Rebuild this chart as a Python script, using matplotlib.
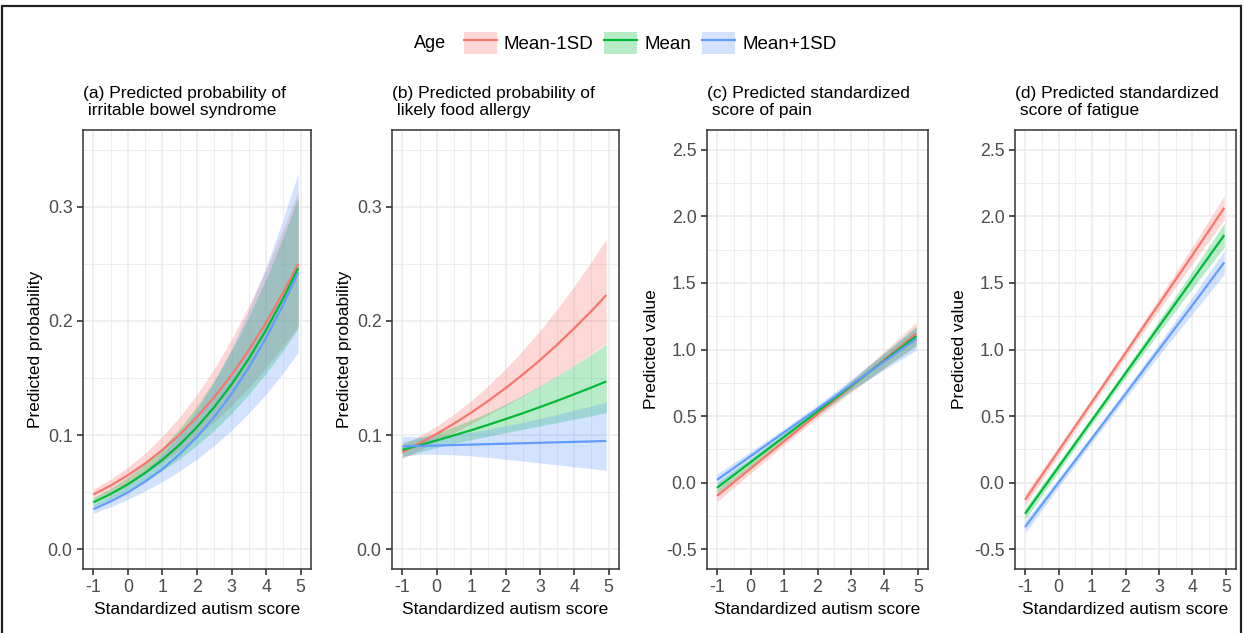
import matplotlib
matplotlib.use("Agg")
import matplotlib.pyplot as plt
from matplotlib.patches import Patch, Rectangle
from matplotlib.lines import Line2D
from matplotlib.ticker import FixedLocator, FixedFormatter

plt.rcParams['font.family'] = ['Liberation Sans', 'DejaVu Sans']
plt.rcParams['axes.unicode_minus'] = False

# ---------------- data ----------------
groups = ["Mean-1SD", "Mean", "Mean+1SD"]
legend_title = "Age"
colors = ["#F8766D", "#00BA38", "#619CFF"]

titles = ["(a) Predicted probability of\n irritable bowel syndrome",
          "(b) Predicted probability of\n likely food allergy",
          "(c) Predicted standardized\n score of pain",
          "(d) Predicted standardized\n score of fatigue"]
ylabels = ["Predicted probability", "Predicted probability",
           "Predicted value", "Predicted value"]
xlabel = "Standardized autism score"
x_ticks = [-1, 0, 1, 2, 3, 4, 5]
prob_ticks = [0.0, 0.1, 0.2, 0.3]
value_ticks = [-0.5, 0.0, 0.5, 1.0, 1.5, 2.0, 2.5]

# logistic panels (a, b)
x_prob = [-1, -0.5, 0, 0.5, 1, 1.5, 2, 2.5, 3, 3.5, 4, 4.5, 4.93]

ibs_m1sd    = [0.0479, 0.0557, 0.0647, 0.0751, 0.0869, 0.1005, 0.1158, 0.1332, 0.1526, 0.1745, 0.1986, 0.2253, 0.2500]
ibs_m1sd_lo = [0.0435, 0.0506, 0.0582, 0.0668, 0.0763, 0.0868, 0.0985, 0.1115, 0.1258, 0.1416, 0.1590, 0.1780, 0.1956]
ibs_m1sd_hi = [0.0527, 0.0614, 0.0718, 0.0842, 0.0989, 0.1160, 0.1356, 0.1584, 0.1841, 0.2132, 0.2453, 0.2809, 0.3135]
ibs_mean    = [0.0410, 0.0483, 0.0568, 0.0668, 0.0783, 0.0916, 0.1070, 0.1245, 0.1444, 0.1669, 0.1922, 0.2201, 0.2465]
ibs_mean_lo = [0.0372, 0.0438, 0.0511, 0.0595, 0.0687, 0.0792, 0.0910, 0.1042, 0.1191, 0.1356, 0.1541, 0.1744, 0.1936]
ibs_mean_hi = [0.0451, 0.0533, 0.0631, 0.0750, 0.0891, 0.1057, 0.1253, 0.1479, 0.1741, 0.2036, 0.2370, 0.2739, 0.3085]
ibs_p1sd    = [0.0350, 0.0418, 0.0497, 0.0592, 0.0702, 0.0833, 0.0984, 0.1159, 0.1361, 0.1592, 0.1853, 0.2147, 0.2425]
ibs_p1sd_lo = [0.0312, 0.0370, 0.0436, 0.0510, 0.0592, 0.0685, 0.0790, 0.0908, 0.1042, 0.1192, 0.1359, 0.1547, 0.1724]
ibs_p1sd_hi = [0.0393, 0.0471, 0.0567, 0.0687, 0.0833, 0.1009, 0.1220, 0.1468, 0.1758, 0.2094, 0.2474, 0.2899, 0.3298]

fa_m1sd    = [0.0850, 0.0927, 0.1010, 0.1100, 0.1196, 0.1300, 0.1411, 0.1530, 0.1656, 0.1792, 0.1936, 0.2088, 0.2227]
fa_m1sd_lo = [0.0790, 0.0867, 0.0945, 0.1022, 0.1099, 0.1176, 0.1258, 0.1340, 0.1427, 0.1517, 0.1612, 0.1712, 0.1802]
fa_m1sd_hi = [0.0915, 0.0991, 0.1079, 0.1183, 0.1301, 0.1434, 0.1580, 0.1742, 0.1914, 0.2103, 0.2306, 0.2522, 0.2719]
fa_mean    = [0.0870, 0.0910, 0.0953, 0.0997, 0.1042, 0.1090, 0.1140, 0.1191, 0.1245, 0.1300, 0.1358, 0.1417, 0.1470]
fa_mean_lo = [0.0808, 0.0850, 0.0890, 0.0925, 0.0959, 0.0989, 0.1020, 0.1050, 0.1079, 0.1109, 0.1139, 0.1169, 0.1195]
fa_mean_hi = [0.0936, 0.0974, 0.1019, 0.1073, 0.1133, 0.1199, 0.1271, 0.1348, 0.1431, 0.1519, 0.1611, 0.1708, 0.1796]
fa_p1sd    = [0.0900, 0.0904, 0.0908, 0.0912, 0.0916, 0.0920, 0.0924, 0.0928, 0.0932, 0.0936, 0.0940, 0.0944, 0.0948]
fa_p1sd_lo = [0.0818, 0.0829, 0.0832, 0.0827, 0.0817, 0.0804, 0.0788, 0.0772, 0.0755, 0.0739, 0.0722, 0.0705, 0.0691]
fa_p1sd_hi = [0.0989, 0.0985, 0.0990, 0.1004, 0.1025, 0.1051, 0.1080, 0.1112, 0.1145, 0.1180, 0.1217, 0.1255, 0.1288]

# linear panels (c, d)
x_lin = [-1, 0, 1, 2, 3, 4, 4.95]

pain_m1sd    = [-0.100, 0.105, 0.310, 0.515, 0.720, 0.925, 1.120]
pain_m1sd_lo = [-0.145, 0.070, 0.282, 0.485, 0.678, 0.863, 1.035]
pain_m1sd_hi = [-0.055, 0.140, 0.338, 0.545, 0.762, 0.987, 1.205]
pain_mean    = [-0.040, 0.152, 0.343, 0.535, 0.726, 0.918, 1.100]
pain_mean_lo = [-0.080, 0.122, 0.318, 0.508, 0.688, 0.862, 1.025]
pain_mean_hi = [0.000, 0.182, 0.368, 0.562, 0.764, 0.974, 1.175]
pain_p1sd    = [0.020, 0.198, 0.376, 0.554, 0.733, 0.911, 1.080]
pain_p1sd_lo = [-0.025, 0.163, 0.348, 0.524, 0.691, 0.849, 0.995]
pain_p1sd_hi = [0.065, 0.233, 0.404, 0.584, 0.775, 0.973, 1.165]

fat_m1sd    = [-0.130, 0.238, 0.606, 0.974, 1.342, 1.710, 2.065]
fat_m1sd_lo = [-0.175, 0.203, 0.576, 0.941, 1.297, 1.645, 1.975]
fat_m1sd_hi = [-0.085, 0.273, 0.636, 1.007, 1.387, 1.775, 2.155]
fat_mean    = [-0.235, 0.117, 0.469, 0.821, 1.173, 1.525, 1.860]
fat_mean_lo = [-0.280, 0.082, 0.439, 0.788, 1.128, 1.460, 1.770]
fat_mean_hi = [-0.190, 0.152, 0.499, 0.854, 1.218, 1.590, 1.950]
fat_p1sd    = [-0.335, -0.001, 0.332, 0.666, 1.000, 1.333, 1.655]
fat_p1sd_lo = [-0.380, -0.036, 0.302, 0.633, 0.955, 1.268, 1.565]
fat_p1sd_hi = [-0.290, 0.034, 0.362, 0.699, 1.045, 1.398, 1.745]

# ---------------- layout ----------------
W, H = 1245, 633
fig = plt.figure(figsize=(W / 100, H / 100), dpi=100)

panel_px = [(83, 311), (392, 619), (707, 928), (1015, 1236)]
top_px, bot_px = 130, 569

panels = [
    (x_prob, [ibs_m1sd, ibs_mean, ibs_p1sd], [ibs_m1sd_lo, ibs_mean_lo, ibs_p1sd_lo],
     [ibs_m1sd_hi, ibs_mean_hi, ibs_p1sd_hi], "prob"),
    (x_prob, [fa_m1sd, fa_mean, fa_p1sd], [fa_m1sd_lo, fa_mean_lo, fa_p1sd_lo],
     [fa_m1sd_hi, fa_mean_hi, fa_p1sd_hi], "prob"),
    (x_lin, [pain_m1sd, pain_mean, pain_p1sd], [pain_m1sd_lo, pain_mean_lo, pain_p1sd_lo],
     [pain_m1sd_hi, pain_mean_hi, pain_p1sd_hi], "value"),
    (x_lin, [fat_m1sd, fat_mean, fat_p1sd], [fat_m1sd_lo, fat_mean_lo, fat_p1sd_lo],
     [fat_m1sd_hi, fat_mean_hi, fat_p1sd_hi], "value"),
]

tick_col = "#4D4D4D"
for i, (xs, fits, los, his, kind) in enumerate(panels):
    l, r = panel_px[i]
    ax = fig.add_axes([l / W, 1 - bot_px / H, (r - l) / W, (bot_px - top_px) / H])
    for lo, hi, c in zip(los, his, colors):
        ax.fill_between(xs, lo, hi, color=c, alpha=0.28, linewidth=0, zorder=2)
    for f, c in zip(fits, colors):
        ax.plot(xs, f, color=c, lw=1.6, zorder=3, solid_capstyle='butt')

    ax.set_xlim(-1.3, 5.3)
    ax.xaxis.set_major_locator(FixedLocator(x_ticks))
    ax.xaxis.set_major_formatter(FixedFormatter([str(t) for t in x_ticks]))
    ax.xaxis.set_minor_locator(FixedLocator([t + 0.5 for t in x_ticks[:-1]]))
    if kind == "prob":
        ax.set_ylim(-0.0175, 0.3675)
        ax.yaxis.set_major_locator(FixedLocator(prob_ticks))
        ax.yaxis.set_major_formatter(FixedFormatter([f"{t:.1f}" for t in prob_ticks]))
        ax.yaxis.set_minor_locator(FixedLocator([0.05, 0.15, 0.25, 0.35]))
    else:
        ax.set_ylim(-0.65, 2.65)
        ax.yaxis.set_major_locator(FixedLocator(value_ticks))
        ax.yaxis.set_major_formatter(FixedFormatter([f"{t:.1f}" for t in value_ticks]))
        ax.yaxis.set_minor_locator(FixedLocator([t + 0.25 for t in value_ticks[:-1]]))

    ax.grid(which='major', color='#EBEBEB', lw=1.1, zorder=0)
    ax.grid(which='minor', color='#EBEBEB', lw=0.6, zorder=0)
    ax.set_axisbelow(True)
    for s in ax.spines.values():
        s.set_color('#333333')
        s.set_linewidth(1.1)
    ax.tick_params(which='major', length=4.5, width=1.2, color='#333333',
                   labelsize=12.8, labelcolor=tick_col, pad=3)
    ax.tick_params(which='minor', length=0)

    ax.set_xlabel(xlabel, fontsize=12.5, color='black')
    ax.xaxis.set_label_coords(0.5, -(609 - bot_px) / (bot_px - top_px), transform=ax.transAxes)
    ax.xaxis.label.set_va('center')
    ax.set_ylabel(ylabels[i], fontsize=12.5, color='black')
    ylab_x = [35, 345, 651, 960][i]
    ax.yaxis.set_label_coords((ylab_x - l) / (r - l), 0.5, transform=ax.transAxes)
    ax.yaxis.label.set_va('center')

    fig.text(l / W, 1 - 102 / H, titles[i], ha='left', va='center',
             fontsize=12.5, linespacing=1.1, color='black')

# legend
handles = [(Patch(facecolor=c, alpha=0.28, edgecolor='none'),
            Line2D([], [], color=c, lw=1.6)) for c in colors]
fig.legend(handles, groups, loc='center', bbox_to_anchor=(650 / W, 1 - 43 / H),
           ncol=3, frameon=False, fontsize=13.5, handlelength=1.75, handleheight=1.5,
           handletextpad=0.37, columnspacing=0.6, borderpad=0)
fig.text(414 / W, 1 - 43 / H, legend_title, ha='left', va='center', fontsize=13)

# outer frame
fig.add_artist(Rectangle((2.5 / W, -0.05), (1240.5 - 2.5) / W, 1.05 - 6 / H,
                         transform=fig.transFigure, fill=False, edgecolor='#222222', lw=1.6))

fig.savefig("out.png", dpi=100, facecolor='white')
